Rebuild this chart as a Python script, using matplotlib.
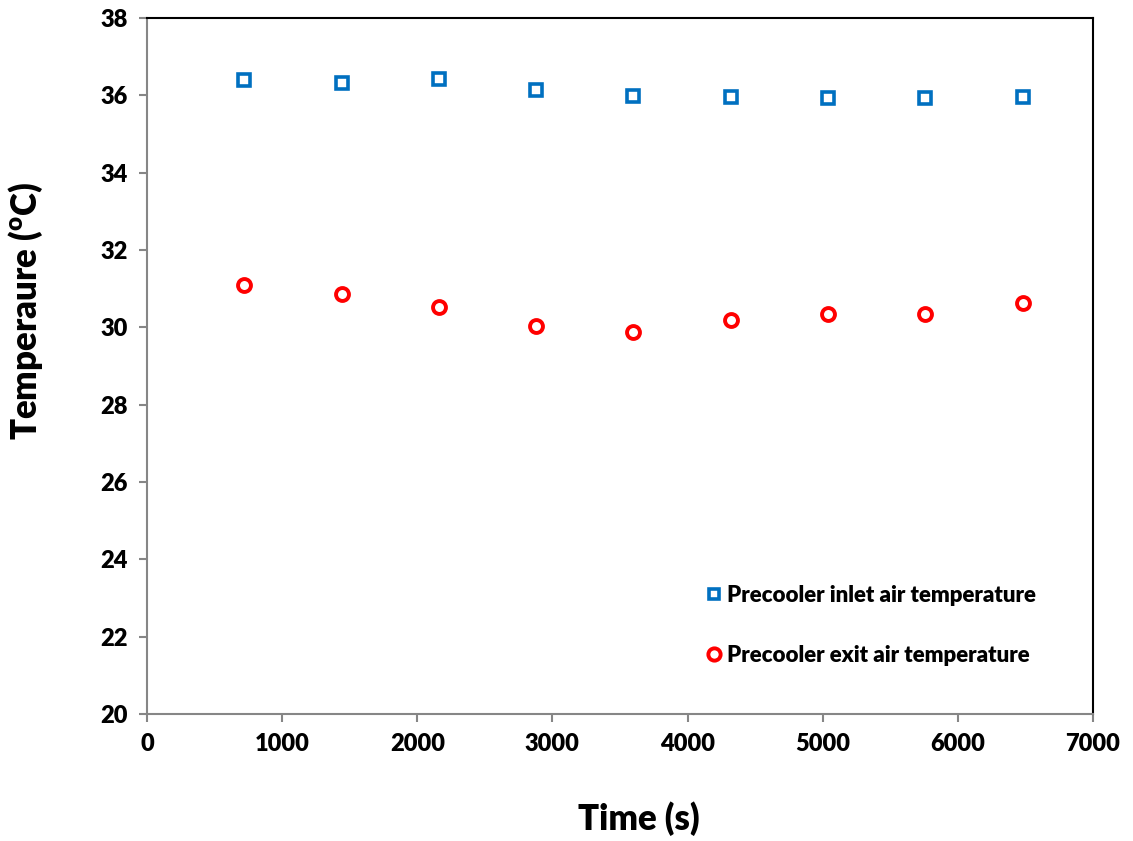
import matplotlib.pyplot as plt

plt.rcParams['font.family'] = ['Lato', 'DejaVu Sans']
plt.rcParams['font.weight'] = 'heavy'
plt.rcParams['mathtext.fontset'] = 'custom'
plt.rcParams['mathtext.bf'] = 'Lato:heavy'

time_s = [720, 1440, 2160, 2880, 3600, 4320, 5040, 5760, 6480]
inlet_temp = [36.40, 36.33, 36.42, 36.15, 35.99, 35.96, 35.93, 35.93, 35.95]
exit_temp = [31.10, 30.85, 30.52, 30.04, 29.88, 30.18, 30.34, 30.35, 30.64]

fig = plt.figure(figsize=(11.33, 8.41), dpi=100)
ax = fig.add_axes([0.1297, 0.151, 0.835, 0.8276])

ax.plot(time_s, inlet_temp, linestyle='none', marker='s', markersize=8,
        markerfacecolor='white', markeredgecolor='#0070C0', markeredgewidth=2.6,
        label='Precooler inlet air temperature')
ax.plot(time_s, exit_temp, linestyle='none', marker='o', markersize=9.3,
        markerfacecolor='white', markeredgecolor='#FF0000', markeredgewidth=2.8,
        label='Precooler exit air temperature')

ax.set_xlim(0, 7000)
ax.set_ylim(20, 38)
ax.set_xticks(range(0, 7001, 1000))
ax.set_yticks(range(20, 39, 2))

for side in ['left', 'bottom']:
    ax.spines[side].set_color('#868686')
    ax.spines[side].set_linewidth(1.5)
for side in ['top', 'right']:
    ax.spines[side].set_color('black')
    ax.spines[side].set_linewidth(1.5)
ax.tick_params(direction='out', length=6, width=1.5, color='#868686',
               labelsize=17, pad=8)
for lab in ax.get_xticklabels() + ax.get_yticklabels():
    lab.set_fontweight('heavy')

ax.set_xlabel('Time (s)', fontsize=25, fontweight='heavy')
ax.set_ylabel('Temperaure ($\\mathbf{^{o}}$C)', fontsize=25, fontweight='heavy')
ax.xaxis.set_label_coords(0.520, -0.126)
ax.yaxis.set_label_coords(-0.108, 0.579)

leg = ax.legend(loc='center left', bbox_to_anchor=(0.571, 0.127), frameon=False,
                fontsize=16.0, handlelength=0.6, handletextpad=0.3, labelspacing=1.75,
                markerscale=0.95)
for t in leg.get_texts():
    t.set_fontweight('heavy')

fig.savefig('out.png', dpi=100)
